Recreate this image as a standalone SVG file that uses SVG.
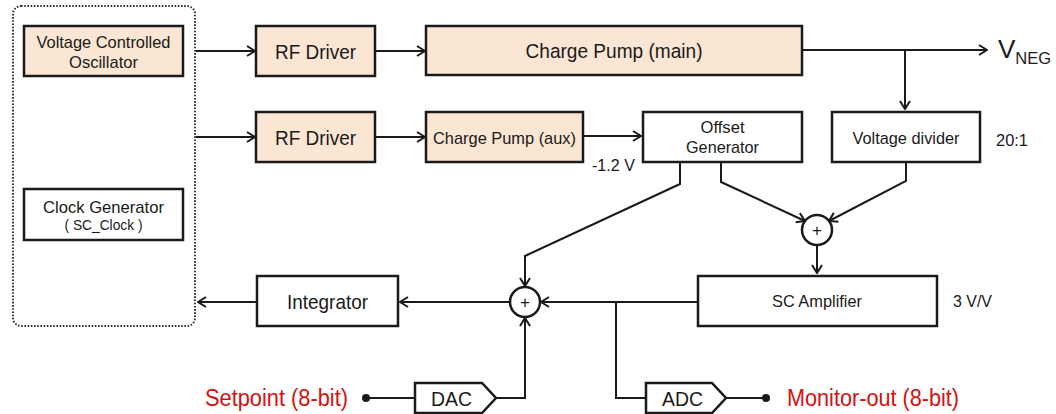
<svg xmlns="http://www.w3.org/2000/svg" width="1056" height="414" viewBox="0 0 1056 414">
<style>
text{font-family:"Liberation Sans",Arial,sans-serif;fill:#1a1a1a}
.box{fill:#fff;stroke:#1a1a1a;stroke-width:2.5}
.peach{fill:#fbe5d3;stroke:#1a1a1a;stroke-width:2.5}
.ln{fill:none;stroke:#1a1a1a;stroke-width:2}
.red{fill:#d41010}
.c{text-anchor:middle}
.L{font-size:20.5px}
.M{font-size:17px}
.S{font-size:14px}
</style>
<defs>
<marker id="ah" viewBox="0 0 10 12" refX="9" refY="6" markerWidth="10" markerHeight="12" markerUnits="userSpaceOnUse" orient="auto">
<path d="M1,1 L9,6 L1,11" fill="none" stroke="#1a1a1a" stroke-width="2"/>
</marker>
</defs>
<g id="container">
<rect x="13" y="6" width="182" height="320" rx="8" fill="none" stroke="#333" stroke-width="2" stroke-dasharray="1.6 1.6"/>
</g>
<g id="vco">
<rect class="peach" x="24" y="26" width="159" height="50"/>
<text class="M c" x="103.5" y="48" textLength="134" lengthAdjust="spacingAndGlyphs">Voltage Controlled</text>
<text class="M c" x="103.5" y="68" textLength="69" lengthAdjust="spacingAndGlyphs">Oscillator</text>
</g>
<g id="clockgen">
<rect class="box" x="24" y="189" width="159" height="51"/>
<text class="M c" x="103.5" y="213" textLength="121" lengthAdjust="spacingAndGlyphs">Clock Generator</text>
<text class="S c" x="103.5" y="230" textLength="78" lengthAdjust="spacingAndGlyphs">( SC_Clock )</text>
</g>
<g id="rf1">
<rect class="peach" x="256" y="26" width="119" height="50"/>
<text class="L c" x="315.5" y="58.5" textLength="81" lengthAdjust="spacingAndGlyphs">RF Driver</text>
</g>
<g id="rf2">
<rect class="peach" x="256" y="112" width="119" height="50"/>
<text class="L c" x="315.5" y="144.5" textLength="81" lengthAdjust="spacingAndGlyphs">RF Driver</text>
</g>
<g id="cpmain">
<rect class="peach" x="426" y="26" width="376" height="49"/>
<text class="L c" x="614" y="58" textLength="177" lengthAdjust="spacingAndGlyphs">Charge Pump (main)</text>
</g>
<g id="cpaux">
<rect class="peach" x="426" y="112" width="157" height="50"/>
<text class="M c" x="504.5" y="143.5" textLength="143" lengthAdjust="spacingAndGlyphs">Charge Pump (aux)</text>
</g>
<g id="offset">
<rect class="box" x="643" y="112" width="159" height="50"/>
<text class="M c" x="722.5" y="133" textLength="44" lengthAdjust="spacingAndGlyphs">Offset</text>
<text class="M c" x="722.5" y="153" textLength="73" lengthAdjust="spacingAndGlyphs">Generator</text>
</g>
<g id="vdiv">
<rect class="box" x="832" y="112" width="148" height="50"/>
<text class="M c" x="906" y="143.5" textLength="107" lengthAdjust="spacingAndGlyphs">Voltage divider</text>
</g>
<g id="sum2">
<circle class="box" cx="817" cy="230" r="15" stroke-width="2"/>
<text class="M c" x="817" y="236">+</text>
</g>
<g id="scamp">
<rect class="box" x="698" y="276" width="239" height="50"/>
<text class="M c" x="817" y="307" textLength="90" lengthAdjust="spacingAndGlyphs">SC Amplifier</text>
</g>
<g id="sum1">
<circle class="box" cx="525" cy="302" r="15" stroke-width="2"/>
<text class="M c" x="525" y="308">+</text>
</g>
<g id="integrator">
<rect class="box" x="257" y="276" width="141" height="50"/>
<text class="L c" x="327.5" y="308.5" textLength="81" lengthAdjust="spacingAndGlyphs">Integrator</text>
</g>
<g id="dac">
<polygon class="box" points="415,383 482,383 496,398 482,413 415,413" stroke-width="2"/>
<text class="L c" x="451.5" y="405.5" textLength="41" lengthAdjust="spacingAndGlyphs">DAC</text>
</g>
<g id="adc">
<polygon class="box" points="646,383 712,383 726,398 712,413 646,413" stroke-width="2"/>
<text class="L c" x="682.5" y="405.5" textLength="41" lengthAdjust="spacingAndGlyphs">ADC</text>
</g>
<g id="labels">
<text x="998" y="58" style="font-size:26px">V<tspan dy="6" style="font-size:16.5px">NEG</tspan></text>
<text class="M" x="996" y="146" textLength="32" lengthAdjust="spacingAndGlyphs">20:1</text>
<text class="M" x="592" y="171" textLength="43" lengthAdjust="spacingAndGlyphs">-1.2 V</text>
<text class="M" x="953" y="307" textLength="39" lengthAdjust="spacingAndGlyphs">3 V/V</text>
<text class="red" x="205" y="405.5" style="font-size:23px" textLength="143" lengthAdjust="spacingAndGlyphs">Setpoint (8-bit)</text>
<text class="red" x="787" y="405.5" style="font-size:23px" textLength="172" lengthAdjust="spacingAndGlyphs">Monitor-out (8-bit)</text>
</g>
<g id="connectors">
<path class="ln" d="M196,51 H255" marker-end="url(#ah)"/>
<path class="ln" d="M196,137 H255" marker-end="url(#ah)"/>
<path class="ln" d="M375,51 H425" marker-end="url(#ah)"/>
<path class="ln" d="M375,137 H425" marker-end="url(#ah)"/>
<path class="ln" d="M802,50 H987" marker-end="url(#ah)"/>
<path class="ln" d="M905,50 V109" marker-end="url(#ah)"/>
<path class="ln" d="M583,136 H641" marker-end="url(#ah)"/>
<path class="ln" d="M680,162 V184 L525,256 V286" marker-end="url(#ah)"/>
<path class="ln" d="M721,162 V182 L805,221" marker-end="url(#ah)"/>
<path class="ln" d="M906,162 V181 L829,221" marker-end="url(#ah)"/>
<path class="ln" d="M817,245 V273" marker-end="url(#ah)"/>
<path class="ln" d="M698,302 H541" marker-end="url(#ah)"/>
<path class="ln" d="M616,302 V398 H646"/>
<path class="ln" d="M726,398 H766"/>
<circle cx="766" cy="398" r="4" fill="#1a1a1a"/>
<circle cx="366" cy="398" r="4" fill="#1a1a1a"/>
<path class="ln" d="M366,398 H415"/>
<path class="ln" d="M496,398 H525 V318" marker-end="url(#ah)"/>
<path class="ln" d="M510,302 H400" marker-end="url(#ah)"/>
<path class="ln" d="M257,302 H198" marker-end="url(#ah)"/>
</g>
</svg>
